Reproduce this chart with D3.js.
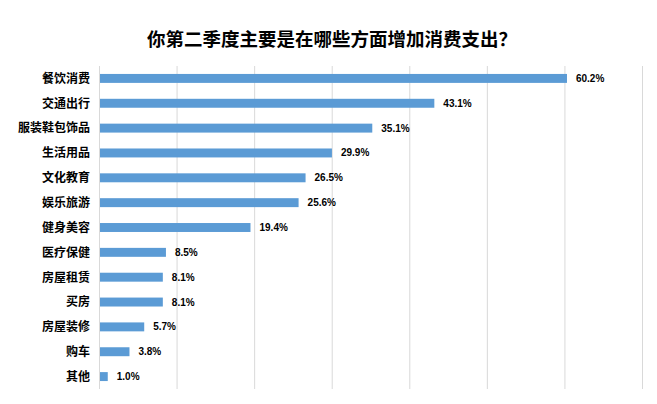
<!DOCTYPE html>
<html>
<head>
<meta charset="utf-8">
<script src="https://cdn.jsdelivr.net/npm/d3@7"></script>
<style>
  body { margin: 0; background: #fff; }
  svg { display: block; }
</style>
</head>
<body>
<svg id="chart" width="657" height="404"></svg>
<script>
const categories = ["餐饮消费", "交通出行", "服装鞋包饰品", "生活用品", "文化教育", "娱乐旅游", "健身美容", "医疗保健", "房屋租赁", "买房", "房屋装修", "购车", "其他"];
const values = [60.2, 43.1, 35.1, 29.9, 26.5, 25.6, 19.4, 8.5, 8.1, 8.1, 5.7, 3.8, 1.0];
const xTicks = [0, 10, 20, 30, 40, 50, 60, 70];

const width = 657;
const height = 404;
const margin = { top: 66, right: 15, bottom: 15, left: 99 };

const svg = d3.select("#chart");

const x = d3.scaleLinear()
    .domain([0, 70])
    .range([margin.left, width - margin.right]);

const y = d3.scaleBand()
    .domain(categories)
    .range([margin.top, height - margin.bottom])
    .paddingInner(0.64)
    .paddingOuter(0.32);

// gridlines
svg.append("g")
    .selectAll("line")
    .data(xTicks)
    .enter()
    .append("line")
    .attr("x1", d => x(d) + 0.5)
    .attr("x2", d => x(d) + 0.5)
    .attr("y1", margin.top)
    .attr("y2", height - margin.bottom)
    .attr("stroke", "#d9d9d9")
    .attr("stroke-width", 1);

svg.append("text")
    .attr("x", 332)
    .attr("y", 46)
    .attr("text-anchor", "middle")
    .style("font-family", "'Noto Sans CJK SC', sans-serif")
    .style("font-size", "18.5px")
    .style("font-weight", "bold")
    .attr("fill", "#000")
    .text("你第二季度主要是在哪些方面增加消费支出？");

svg.append("g")
    .selectAll("rect")
    .data(values)
    .enter()
    .append("rect")
    .attr("x", x(0) + 1)
    .attr("y", (d, i) => y(categories[i]))
    .attr("width", d => x(d) - x(0))
    .attr("height", y.bandwidth())
    .attr("fill", "#5b9bd5");

svg.append("g")
    .selectAll("text")
    .data(values)
    .enter()
    .append("text")
    .attr("x", d => x(d) + 10)
    .attr("y", (d, i) => y(categories[i]) + y.bandwidth() / 2)
    .attr("dy", "0.35em")
    .style("font-family", "'Liberation Sans', Arial, sans-serif")
    .style("font-size", "10px")
    .style("font-weight", "bold")
    .attr("fill", "#000")
    .text(d => `${d.toFixed(1)}%`);

svg.append("g")
    .selectAll("text")
    .data(categories)
    .enter()
    .append("text")
    .attr("x", 90)
    .attr("y", d => y(d) + y.bandwidth() / 2)
    .attr("dy", "0.36em")
    .attr("text-anchor", "end")
    .style("font-family", "'Noto Sans CJK SC', sans-serif")
    .style("font-size", "12px")
    .style("font-weight", "bold")
    .attr("fill", "#000")
    .text(d => d);
</script>
</body>
</html>
